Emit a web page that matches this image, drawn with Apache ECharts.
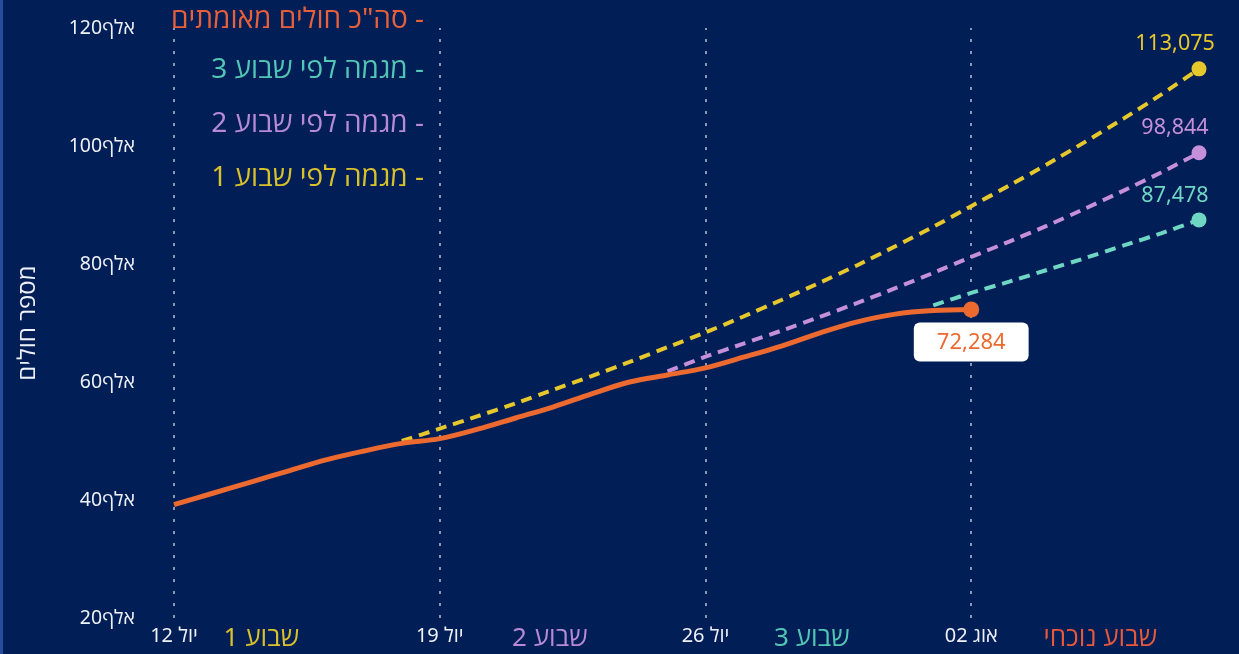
<!DOCTYPE html>
<html>
<head>
<meta charset="utf-8">
<style>
html,body{margin:0;padding:0;background:#021e56;}
#chart{width:1239px;height:654px;}
</style>
<script src="https://cdn.jsdelivr.net/npm/echarts@6/dist/echarts.min.js"></script>
</head>
<body>
<div id="chart"></div>
<script>
// ---- data ----
const dayTicks = [0, 7, 14, 21];
const dayLabels = ['12 יול', '19 יול', '26 יול', '02 אוג'];
const weekLabelPos = [2.3, 9.9, 16.8, 24.4];
const weekLabels = ['שבוע 1', 'שבוע 2', 'שבוע 3', 'שבוע נוכחי'];
const yTicks = [20000, 40000, 60000, 80000, 100000, 120000];

const totalName = 'סה"כ חולים מאומתים';
const totalStartDay = 0;
const totalValues = [39200, 41100, 43000, 44900, 46800, 48300, 49600, 50400, 52000, 53900, 55800, 58000,
  60000, 61200, 62400, 64200, 66100, 68300, 70200, 71500, 72100, 72284];

const week1Name = 'מגמה לפי שבוע 1';
const week1StartDay = 6;
const week1Values = [50000, 52100, 54200, 56400, 58700, 61000, 63400, 65900, 68400, 71100, 73900, 76800,
  79800, 83000, 86300, 89800, 93300, 96900, 100700, 104600, 108700, 113075];

const week2Name = 'מגמה לפי שבוע 2';
const week2StartDay = 13;
const week2Values = [61800, 64300, 66500, 68700, 71000, 73400, 75900, 78500, 81200, 83800, 86500, 89400,
  92400, 95500, 98844];

const week3Name = 'מגמה לפי שבוע 3';
const week3StartDay = 20;
const week3Values = [73000, 75100, 77000, 79000, 81000, 83100, 85200, 87478];

// ---- styles ----
const C = {
  bg: '#021e56',
  total: '#ec6a2f',
  w1: '#e6c82c',
  w2: '#c58fd9',
  w3: '#6fd6c4',
  w1Text: '#d8c12a',
  w2Text: '#b68ad6',
  w3Text: '#52c6b5',
  totalText: '#e8603a',
  curText: '#e8583a',
  white: '#eef1f8'
};
const FONT = '"Segoe UI", "Noto Sans", "Open Sans", sans-serif';

function toPairs(start, vals) { return vals.map((v, i) => [start + i, v]); }
function fmt(v) { return v.toLocaleString('en-US'); }

function projSeries(name, start, vals, color, labelOffset) {
  const data = toPairs(start, vals);
  const last = data.length - 1;
  data[last] = {
    value: data[last],
    label: {
      show: true, position: 'top', distance: 6, offset: labelOffset,
      color: color, fontSize: 21.5, fontFamily: FONT,
      formatter: p => fmt(p.value[1])
    }
  };
  return {
    name, type: 'line', data, smooth: 0.2, z: 3,
    showAllSymbol: true, symbol: 'circle',
    symbolSize: (v, p) => p.dataIndex === last ? 15 : 0,
    lineStyle: { color, width: 4, type: [11, 7] },
    itemStyle: { color },
    emphasis: { disabled: true },
    label: { show: false }
  };
}

const totalData = toPairs(totalStartDay, totalValues);
const totalLast = totalData.length - 1;
totalData[totalLast] = {
  value: totalData[totalLast],
  label: {
    show: true, position: 'bottom', distance: 5,
    backgroundColor: '#ffffff', borderRadius: 6, padding: [9, 23, 8, 23],
    color: C.total, fontSize: 22, fontFamily: FONT,
    formatter: p => fmt(p.value[1])
  }
};

const weekRich = {
  w0: { color: C.w1Text, fontSize: 26, fontFamily: FONT },
  w1: { color: C.w2Text, fontSize: 26, fontFamily: FONT },
  w2: { color: C.w3Text, fontSize: 26, fontFamily: FONT },
  w3: { color: C.curText, fontSize: 26, fontFamily: FONT },
  d: { color: C.white, fontSize: 20, fontFamily: FONT }
};

function legendFor(name, color, top) {
  return {
    show: true, orient: 'vertical', right: 810, top: top,
    data: [{ name, textStyle: { color } }],
    icon: 'rect', itemWidth: 0, itemHeight: 0, itemGap: 0,
    selectedMode: false,
    formatter: n => n + ' -',
    textStyle: { color, fontSize: 28, fontFamily: FONT }
  };
}

const chart = echarts.init(document.getElementById('chart'));
chart.setOption({
  backgroundColor: C.bg,
  animation: false,
  legend: [
    legendFor(totalName, C.totalText, 1),
    legendFor(week3Name, C.w3Text, 51),
    legendFor(week2Name, C.w2Text, 105),
    legendFor(week1Name, C.w1Text, 159)
  ],
  graphic: [{ type: 'rect', left: 0, top: 0, shape: { width: 3, height: 654 }, style: { fill: '#2a4c9e' } }],
  grid: { left: 174, right: 40, top: 28, bottom: 36, containLabel: false },
  xAxis: {
    type: 'value', min: 0, max: 27,
    axisLine: { show: false }, axisTick: { show: false }, splitLine: { show: false },
    axisLabel: {
      customValues: dayTicks.concat(weekLabelPos),
      margin: 8,
      rich: weekRich,
      formatter: v => {
        const di = dayTicks.indexOf(v);
        if (di >= 0) return '{d|' + dayLabels[di] + '}';
        const wi = weekLabelPos.indexOf(v);
        if (wi >= 0) return '{w' + wi + '|' + weekLabels[wi] + '}';
        return '';
      }
    }
  },
  yAxis: {
    type: 'value', min: 20000, max: 120000, interval: 20000,
    axisLine: { show: false }, axisTick: { show: false }, splitLine: { show: false },
    axisLabel: {
      color: C.white, fontSize: 19.5, fontFamily: FONT, margin: 39,
      formatter: v => (yTicks.indexOf(v) >= 0 ? (v / 1000) + 'אלף' : '')
    },
    name: 'מספר חולים', nameLocation: 'middle', nameGap: 134, nameRotate: 90,
    nameTextStyle: { color: C.white, fontSize: 24, fontFamily: FONT }
  },
  series: [
    projSeries(week1Name, week1StartDay, week1Values, C.w1, [-24, 0]),
    projSeries(week2Name, week2StartDay, week2Values, C.w2, [-24, 0]),
    projSeries(week3Name, week3StartDay, week3Values, C.w3, [-24, 0]),
    {
      name: totalName, type: 'line', data: totalData, smooth: 0.35, z: 5,
      showAllSymbol: true, symbol: 'circle',
      symbolSize: (v, p) => p.dataIndex === totalLast ? 16 : 0,
      lineStyle: { color: C.total, width: 5 },
      itemStyle: { color: C.total },
      emphasis: { disabled: true },
      markLine: {
        silent: true, symbol: 'none', z: 1,
        label: { show: false },
        lineStyle: { color: '#8a98b8', width: 2, type: [3, 9] },
        data: dayTicks.map(d => ({ xAxis: d }))
      }
    }
  ]
});
</script>
</body>
</html>
